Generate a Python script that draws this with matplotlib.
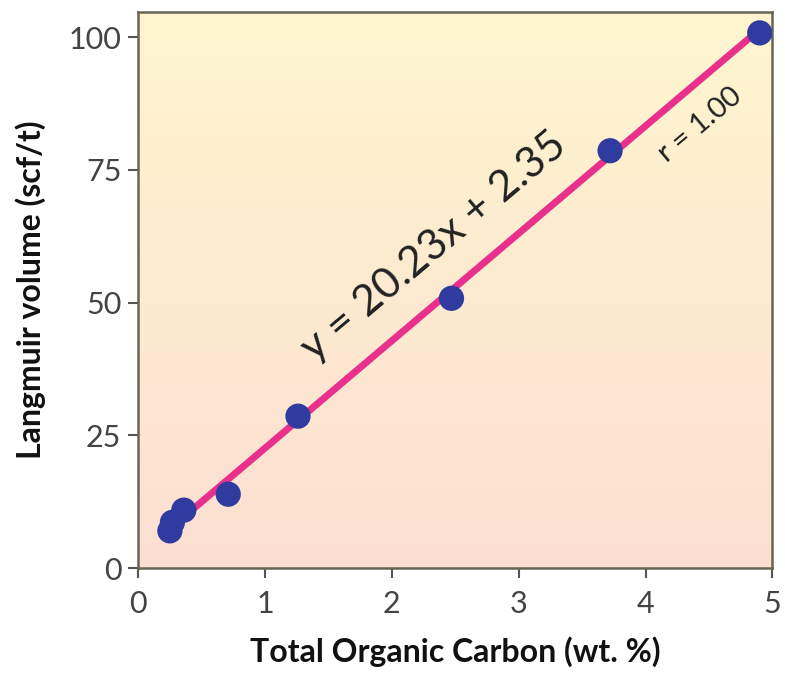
import numpy as np
import matplotlib.pyplot as plt
from matplotlib.colors import LinearSegmentedColormap

toc = [0.25, 0.27, 0.36, 0.71, 1.26, 2.47, 3.72, 4.90]
langmuir = [7.0, 8.6, 10.9, 13.9, 28.6, 50.8, 78.6, 100.8]
slope, intercept = 20.23, 2.35
fit_x = [0.30, 4.90]

plt.rcParams['font.family'] = ['Lato', 'DejaVu Sans']

fig = plt.figure(figsize=(7.85, 6.77), dpi=100)
ax = fig.add_axes([0.176, 0.161, 0.808, 0.821])
ax.set_xlim(0, 5)
ax.set_ylim(0, 104.7)

# background gradient (yellow top -> pink bottom)
cmap = LinearSegmentedColormap.from_list("bg", ["#fcdfd2", "#fff6cf"])
grad = np.linspace(0, 1, 256).reshape(-1, 1)
ax.imshow(grad, cmap=cmap, aspect="auto", origin="lower",
          extent=[0, 5, 0, 104.7], zorder=0)

fx = np.array(fit_x)
ax.plot(fx, slope * fx + intercept, color="#e8308c", lw=5, zorder=2,
        solid_capstyle="butt")
ax.scatter(toc, langmuir, s=330, color="#2f3b9e", zorder=3, edgecolors="none")

ax.text(2.33, 60.5, "y = 20.23x + 2.35", fontsize=31, rotation=40,
        ha="center", va="center", color="#222222")
ax.text(4.43, 83.5, "r = 1.00", fontsize=21, rotation=40,
        ha="center", va="center", color="#222222")

ax.set_xticks([0, 1, 2, 3, 4, 5])
ax.set_yticks([0, 25, 50, 75, 100])
ax.tick_params(direction="out", length=7, width=1.5, color="#555555",
               labelsize=22, labelcolor="#444444")
ax.tick_params(axis="x", pad=9)
ax.tick_params(axis="y", pad=5)
for s in ax.spines.values():
    s.set_color("#666655")
    s.set_linewidth(1.8)

ax.set_xlabel("Total Organic Carbon (wt. %)", fontsize=23, fontweight="bold",
              color="#111111", labelpad=13)
ax.set_ylabel("Langmuir volume (scf/t)", fontsize=23, fontweight="bold",
              color="#111111", labelpad=16)

fig.savefig("out.png", dpi=100)
